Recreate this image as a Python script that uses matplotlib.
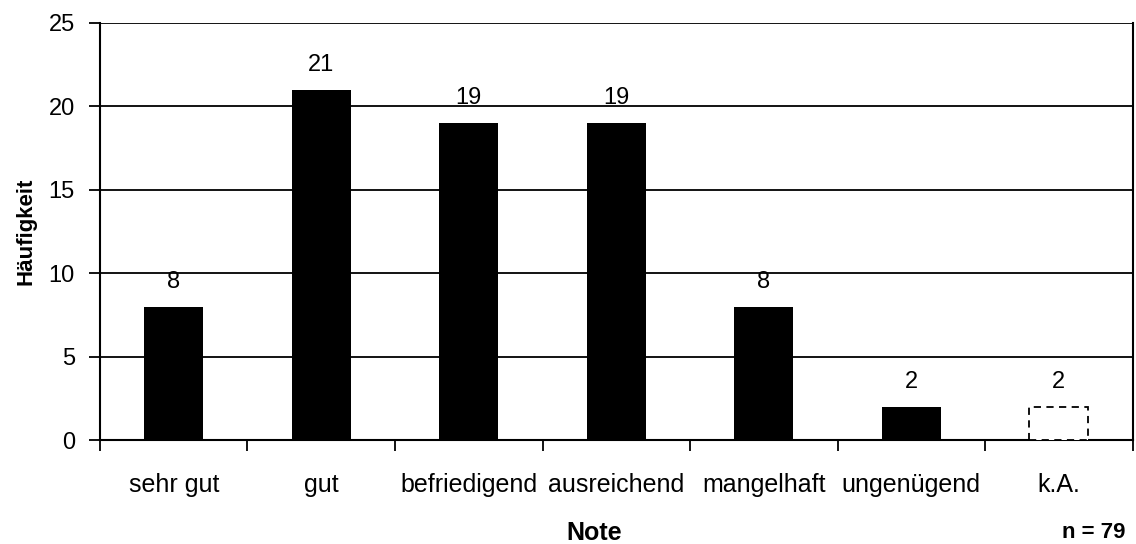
import matplotlib.pyplot as plt
import numpy as np

plt.rcParams['font.family'] = ['Liberation Sans', 'DejaVu Sans']

categories = ["sehr gut", "gut", "befriedigend", "ausreichend", "mangelhaft", "ungenügend", "k.A."]
counts = [8, 21, 19, 19, 8, 2, 2]
no_answer = [False, False, False, False, False, False, True]

fig = plt.figure(figsize=(11.36, 5.44), dpi=100)
ax = fig.add_axes([0.088, 0.191, 0.909, 0.767])

x = np.arange(len(categories))
for xi, c, na in zip(x, counts, no_answer):
    if na:
        ax.bar(xi, c, width=0.4, facecolor='white', edgecolor='black',
               linestyle=(0, (4, 3)), linewidth=1.3, zorder=3)
    else:
        ax.bar(xi, c, width=0.4, color='black', zorder=3)
    # value label above each bar
    ax.text(xi, c + 1.5, str(c), ha='center', va='center', fontsize=17)

ax.set_xlim(-0.5, len(categories) - 0.5)
ax.set_ylim(0, 25)
ax.set_yticks(range(0, 26, 5))
ax.yaxis.grid(True, color='black', linewidth=1.3)
ax.set_axisbelow(True)

ax.set_xticks(x)
ax.set_xticklabels(categories, fontsize=18)
ax.set_xticks(np.arange(-0.5, len(categories)), minor=True)
ax.tick_params(axis='x', which='major', length=0, pad=24)
ax.tick_params(axis='x', which='minor', length=8, width=1.3, direction='out')
ax.tick_params(axis='y', length=8, width=1.3, labelsize=17, pad=10)

for side in ['left', 'right', 'bottom']:
    ax.spines[side].set_linewidth(1.5)
ax.spines['top'].set_visible(False)

ax.set_ylabel('Häufigkeit', fontsize=16, fontweight='bold', labelpad=9)
ax.set_xlabel('Note', fontsize=18, fontweight='bold')
ax.xaxis.set_label_coords(0.479, -0.194)
fig.text(0.9626, 0.022, 'n = 79', fontsize=16, fontweight='bold', ha='center', va='center')

fig.savefig('out.png', dpi=100)
